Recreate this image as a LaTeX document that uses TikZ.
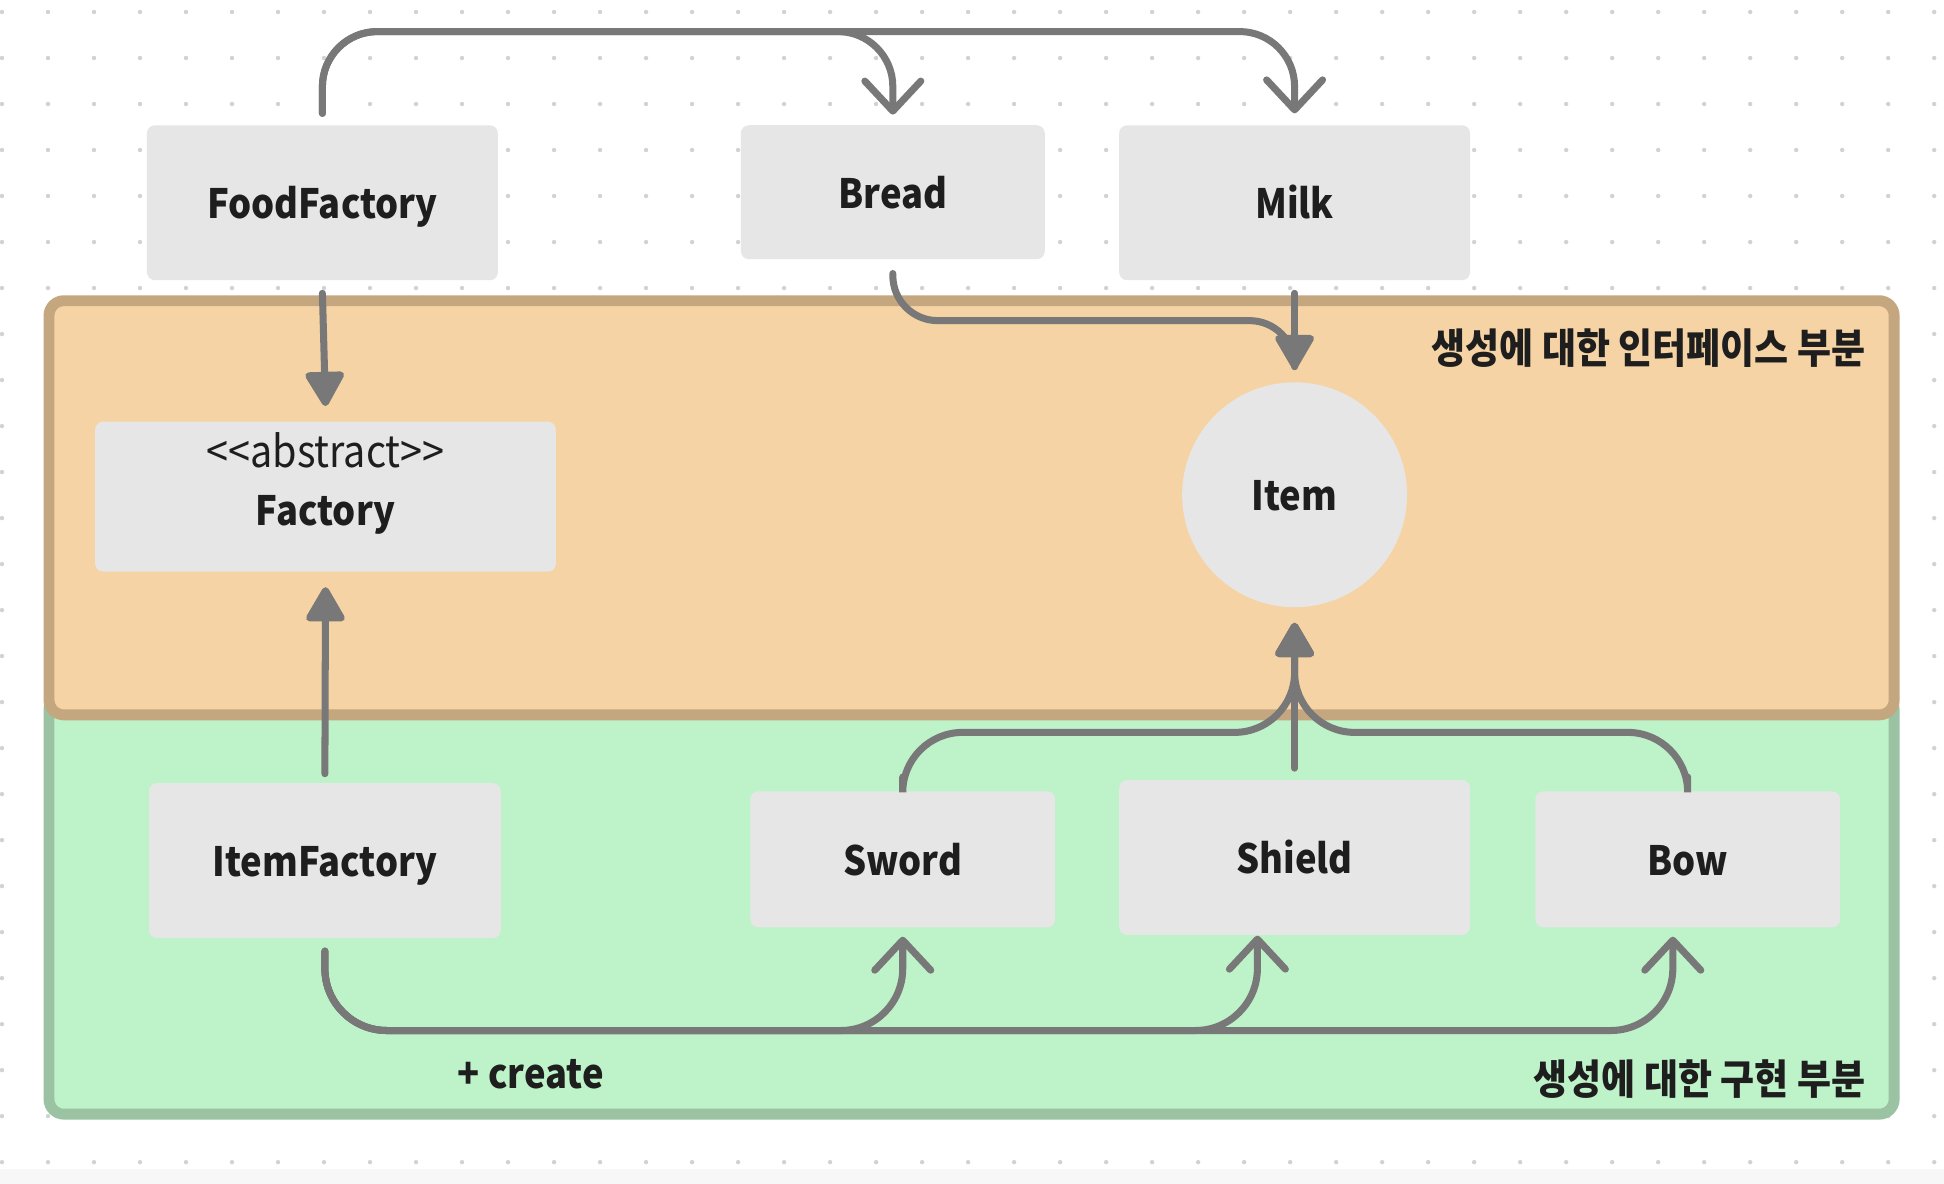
\documentclass[tikz,border=0pt]{standalone}
\usepackage{fontspec}
\setmainfont{Noto Sans CJK KR}[FakeStretch=0.9]
\usepackage{tikz}
\usetikzlibrary{positioning, arrows.meta, calc}
\definecolor{boxg}{HTML}{E6E6E6}
\definecolor{txt}{HTML}{1E1E1E}
\definecolor{lineg}{HTML}{787878}
\definecolor{dotg}{HTML}{D2D2D2}
\definecolor{orfill}{HTML}{F5D3A4}
\definecolor{ordraw}{HTML}{C4A77F}
\definecolor{grfill}{HTML}{BEF2C9}
\definecolor{grdraw}{HTML}{9BC2A2}

\begin{document}
\begin{tikzpicture}[x=0.0124cm, y=-0.0124cm,
       word/.style={text=txt, inner sep=0pt, text height=0.4cm, text depth=0.08cm,
         font=\bfseries\fontsize{11.5}{14}\selectfont},
       box/.style={word, rectangle, rounded corners=0.08cm, fill=boxg},
       circ/.style={word, circle, fill=boxg, minimum size=2.25cm},
       zone/.style={line width=3.1pt, rounded corners=0.15cm},
       note/.style={text=txt, inner sep=0pt, font=\bfseries\fontsize{11.7}{14}\selectfont},
       arr/.style={draw=lineg, line width=2pt, line cap=round},
       barb/.style={arr, -{Straight Barb[length=3mm, width=5.6mm, round]}},
       tri/.style={arr, -{Triangle[length=3.8mm, width=4.2mm, round]}}]
     \useasboundingbox (0,0) rectangle (1567.7,954.8);
     % background
     \fill[white] (0,0) rectangle (1567.7,954.8);
     \fill[black!3] (0,943) rectangle (1567.7,954.8);
     \foreach \i in {0,...,42}
       \foreach \j in {0,...,25}
         \fill[dotg] (1.6+37.1*\i, 9.7+37.1*\j) circle[radius=0.022cm];
     % zones
     \draw[zone, fill=grfill, draw=grdraw] (39.5,560) rectangle (1527.5,898.5);
     \draw[zone, fill=orfill, draw=ordraw] (39.5,242.5) rectangle (1527.5,576.5);
     \node[note, anchor=east] (iface) at (1505,281) {생성에 대한 인터페이스 부분};
     \node[note, anchor=east] (impl) at (1505,870) {생성에 대한 구현 부분};
     % nodes
     \node[box, minimum width=3.51cm, minimum height=1.55cm] (ff) at (260,163.5) {FoodFactory};
     \node[box, minimum width=3.04cm, minimum height=1.34cm] (bread) at (720,155) {Bread};
     \node[box, minimum width=3.51cm, minimum height=1.55cm] (milk) at (1044,163.5) {Milk};
     \node[box, minimum width=4.61cm, minimum height=1.50cm] (factory) at (262.5,400.5) {};
     \node[word, font=\fontsize{12.5}{15}\selectfont] (abstr) at ($(factory.center)+(0,-36.5)$)
       {<\kern0pt<abstract>\kern0pt>};
     \node[word] (facname) at ($(factory.center)+(0,10.5)$) {Factory};
     \node[circ] (item) at (1044,399) {Item};
     \node[box, minimum width=3.52cm, minimum height=1.55cm] (itemf) at (262,694) {ItemFactory};
     \node[box, minimum width=3.05cm, minimum height=1.36cm] (sword) at (728,693) {Sword};
     \node[box, minimum width=3.51cm, minimum height=1.55cm] (shield) at (1044,691.5) {Shield};
     \node[box, minimum width=3.05cm, minimum height=1.36cm] (bow) at (1361,693) {Bow};
     \node[word] (create) at (428,865) {+ create};
     % connectors
     \draw[barb, rounded corners=0.55cm] ($(ff.north)+(0,-9)$) -- ++(0,-66) -| ($(bread.north)+(0,-8)$);
     \draw[barb, rounded corners=0.55cm] ($(ff.north)+(0,-9)$) -- ++(0,-66) -| ($(milk.north)+(0,-9)$);
     \draw[tri] ($(ff.south)+(0,10)$) -- ($(factory.north)+(0,-12)$);
     \draw[arr, rounded corners=0.45cm] ($(bread.south)+(0,11)$) -- ++(0,38) -| ($(item.north)+(0,-12)$);
     \draw[tri] ($(milk.south)+(0,10)$) -- ($(item.north)+(0,-10)$);
     \draw[tri] ($(itemf.north)+(0,-7)$) -- ($(factory.south)+(0,12)$);
     \draw[tri] ($(shield.north)+(0,-9)$) -- ($(item.south)+(0,12)$);
     \draw[tri, rounded corners=0.6cm] ($(sword.north)+(0,-11)$) -- ++(0,-36) -| ($(item.south)+(0,12)$);
     \draw[tri, rounded corners=0.6cm] ($(bow.north)+(0,-11)$) -- ++(0,-36) -| ($(item.south)+(0,12)$);
     \draw[barb, rounded corners=0.62cm] ($(itemf.south)+(0,10)$) -- ++(0,64) -| ($(sword.south)+(0,7)$);
     \draw[barb, rounded corners=0.62cm] ($(itemf.south)+(0,10)$) -- ++(0,64) -| ($(shield.south)+(-30,0)$);
     \draw[barb, rounded corners=0.62cm] ($(itemf.south)+(0,10)$) -- ++(0,64) -| ($(bow.south)+(-12,7)$);
\end{tikzpicture}
\end{document}
